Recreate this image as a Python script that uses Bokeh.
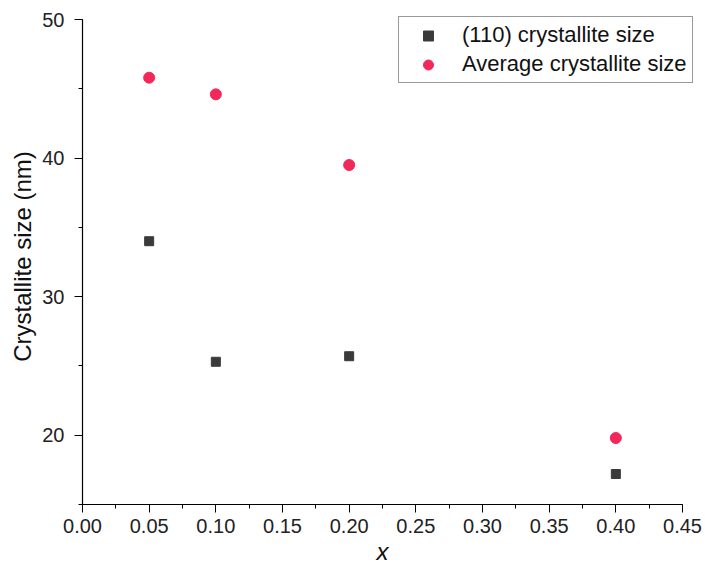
from bokeh.plotting import figure
from bokeh.models import (ColumnDataSource, Range1d, SingleIntervalTicker,
                          PrintfTickFormatter, Legend, LegendItem, Title)
from bokeh.embed import file_html
from bokeh.resources import INLINE

# Composition x and crystallite sizes (nm)
x_vals = [0.05, 0.10, 0.20, 0.40]
size_110 = [34.0, 25.3, 25.7, 17.2]
size_avg = [45.8, 44.6, 39.5, 19.8]

src = ColumnDataSource(dict(x=x_vals, s110=size_110, savg=size_avg))

FONT = "Liberation Sans"

# The frame runs slightly past the axes' ends so the legend box has room;
# the axes themselves are bounded to 0-0.45 and 15-50.
p = figure(width=705, height=569, output_backend="svg", toolbar_location=None,
           x_range=Range1d(0.0, 0.46725), y_range=Range1d(15, 50.794),
           min_border_left=82, min_border_right=0,
           min_border_top=8, min_border_bottom=65)
p.outline_line_color = None
p.xgrid.visible = False
p.ygrid.visible = False
p.background_fill_color = "white"
p.border_fill_color = "white"

r_sq = p.scatter("x", "s110", source=src, marker="square", size=9,
                 fill_color="#3a3a3a", line_color="#3a3a3a")
r_ci = p.scatter("x", "savg", source=src, marker="circle", size=11,
                 fill_color="#f2285a", line_color="#f2285a")

p.xaxis.ticker = SingleIntervalTicker(interval=0.05, num_minor_ticks=2)
p.xaxis.formatter = PrintfTickFormatter(format="%.2f")
p.yaxis.ticker = SingleIntervalTicker(interval=10, num_minor_ticks=2)
p.xaxis.bounds = (0.0, 0.45)
p.yaxis.bounds = (15, 50)

for ax in (p.xaxis[0], p.yaxis[0]):
    ax.axis_line_color = "black"
    ax.axis_line_width = 1.2
    ax.major_tick_line_color = "black"
    ax.minor_tick_line_color = "black"
    ax.major_tick_in = 0
    ax.major_tick_out = 8
    ax.minor_tick_in = 0
    ax.minor_tick_out = 4
    ax.major_label_text_font = FONT
    ax.major_label_text_font_size = "20px"
    ax.major_label_text_color = "#222222"
    ax.axis_label_text_font = FONT
    ax.axis_label_text_font_size = "24px"
    ax.axis_label_text_color = "#111111"
    ax.axis_label_text_font_style = "normal"

p.xaxis.major_label_standoff = 6
p.yaxis.axis_label = "Crystallite size (nm)"
p.yaxis.axis_label_standoff = 3
p.yaxis.major_label_standoff = 10

# x-axis title, placed under the middle of the bounded axis (0-0.45)
xtitle = Title(text="x", align="left", offset=294, standoff=0,
               text_font=FONT, text_font_size="24px",
               text_font_style="italic", text_color="#111111")
p.add_layout(xtitle, "below")

legend = Legend(items=[LegendItem(label="(110) crystallite size", renderers=[r_sq]),
                       LegendItem(label="Average crystallite size", renderers=[r_ci])],
                location=(316, 421))
legend.label_text_font = FONT
legend.label_text_font_size = "22px"
legend.label_text_color = "#111111"
legend.label_height = 25
legend.glyph_height = 25
legend.border_line_color = "#333333"
legend.border_line_width = 1
legend.background_fill_alpha = 1.0
legend.padding = 5
legend.spacing = 3
legend.glyph_width = 48
legend.label_standoff = 10
legend.margin = 0
p.add_layout(legend, "center")

open("out.html", "w").write(file_html(p, INLINE))
